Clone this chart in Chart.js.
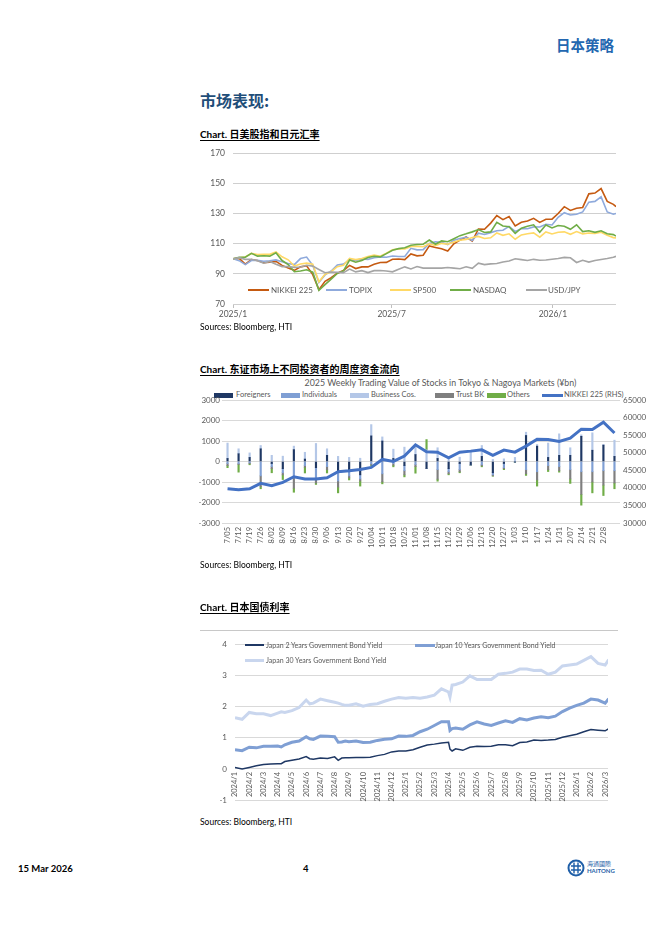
<!DOCTYPE html>
<html>
<head>
<meta charset="utf-8">
<script src="https://cdn.jsdelivr.net/npm/chart.js@4.4.1/dist/chart.umd.min.js"></script>
<style>
  body{margin:0;background:#fff;}
  #page{position:relative;width:662px;height:936px;overflow:hidden;font-family:Lato,"Noto Sans CJK SC",sans-serif;color:#000;}
  .abs{position:absolute;white-space:nowrap;}
  .ctitle{font-family:Lato,"Noto Sans CJK SC",sans-serif;font-weight:bold;font-size:10px;text-decoration:underline;text-underline-offset:2px;}
  .src{font-size:8.5px;}
  .lg{position:absolute;font-size:8px;color:#595959;line-height:10px;white-space:nowrap;}
  .ln{position:absolute;height:2px;}
  .sw{position:absolute;height:5px;}
  canvas{position:absolute;}
</style>
</head>
<body>
<div id="page">
  <div class="abs" style="left:556px;top:34px;font-size:14.5px;font-weight:bold;color:#2367b0;font-family:'Noto Sans CJK SC';">日本策略</div>
  <div class="abs" style="left:200px;top:88px;font-size:16px;font-weight:bold;color:#1f4e79;font-family:'Noto Sans CJK SC';">市场表现:</div>

  <!-- chart 1 -->
  <div class="abs ctitle" style="left:200px;top:126px;">Chart. 日美股指和日元汇率</div>
  <canvas id="c1" width="430" height="185" style="left:195px;top:140px;"></canvas>
  <div class="ln" style="left:248px;top:289px;width:21px;background:#c55a11"></div><div class="lg" style="left:271px;top:285px">NIKKEI 225</div>
  <div class="ln" style="left:326px;top:289px;width:21px;background:#8faadc"></div><div class="lg" style="left:349px;top:285px">TOPIX</div>
  <div class="ln" style="left:390px;top:289px;width:21px;background:#ffd966"></div><div class="lg" style="left:413px;top:285px">SP500</div>
  <div class="ln" style="left:450px;top:289px;width:21px;background:#70ad47"></div><div class="lg" style="left:473px;top:285px">NASDAQ</div>
  <div class="ln" style="left:526px;top:289px;width:21px;background:#a5a5a5"></div><div class="lg" style="left:548px;top:285px">USD/JPY</div>
  <div class="abs src" style="left:200px;top:322px;">Sources: Bloomberg, HTI</div>

  <!-- chart 2 -->
  <div class="abs ctitle" style="left:200px;top:361px;">Chart. 东证市场上不同投资者的周度资金流向</div>
  <div class="abs" style="left:293px;top:377px;width:295px;text-align:center;font-size:8.8px;color:#595959;">2025 Weekly Trading Value of Stocks in Tokyo &amp; Nagoya Markets (¥bn)</div>
  <div class="sw" style="left:214px;top:393px;width:19px;background:#1f3864"></div><div class="lg" style="left:236px;top:390px;font-size:7.5px">Foreigners</div>
  <div class="sw" style="left:281px;top:393px;width:19px;background:#7f9fd4"></div><div class="lg" style="left:302px;top:390px;font-size:7.5px">Individuals</div>
  <div class="sw" style="left:350px;top:393px;width:19px;background:#b4c7e7"></div><div class="lg" style="left:371px;top:390px;font-size:7.5px">Business Cos.</div>
  <div class="sw" style="left:435px;top:393px;width:19px;background:#7f7f7f"></div><div class="lg" style="left:456px;top:390px;font-size:7.5px">Trust BK</div>
  <div class="sw" style="left:487px;top:393px;width:19px;background:#70ad47"></div><div class="lg" style="left:507px;top:390px;font-size:7.5px">Others</div>
  <div class="ln" style="left:542px;top:394px;width:21px;height:3px;background:#4472c4"></div><div class="lg" style="left:564px;top:390px;font-size:7.5px">NIKKEI 225 (RHS)</div>
  <canvas id="c2" width="455" height="175" style="left:195px;top:390px;"></canvas>
  <div class="abs src" style="left:200px;top:560px;">Sources: Bloomberg, HTI</div>

  <!-- chart 3 -->
  <div class="abs ctitle" style="left:200px;top:599px;">Chart. 日本国债利率</div>
  <div class="abs" style="left:200px;top:630px;width:418px;height:0;border-top:1px solid #c8c8c8;"></div>
  <canvas id="c3" width="430" height="182" style="left:195px;top:632px;"></canvas>
  <div class="ln" style="left:245px;top:644px;width:19px;height:1.5px;background:#1f3864"></div><div class="lg" style="left:266px;top:640px;font-size:7px">Japan 2 Years Government Bond Yield</div>
  <div class="ln" style="left:415px;top:644px;width:20px;height:3px;background:#7f9fd4"></div><div class="lg" style="left:435px;top:640px;font-size:7px">Japan 10 Years Government Bond Yield</div>
  <div class="ln" style="left:245px;top:659px;width:19px;height:3px;background:#c9d6ee"></div><div class="lg" style="left:266px;top:655px;font-size:7px">Japan 30 Years Government Bond Yield</div>
  <div class="abs src" style="left:200px;top:817px;">Sources: Bloomberg, HTI</div>

  <!-- footer -->
  <div class="abs" style="left:18px;top:863px;font-size:9.5px;font-weight:bold;">15 Mar 2026</div>
  <div class="abs" style="left:303px;top:863px;font-size:9.5px;font-weight:bold;">4</div>
  <svg class="abs" style="left:567px;top:859px" width="18" height="18" viewBox="0 0 18 18">
    <circle cx="9" cy="9" r="7.5" fill="none" stroke="#1f5fa8" stroke-width="2"/>
    <path d="M4 7h10M4 11h10M7 3.5v11M11 3.5v11" stroke="#1f5fa8" stroke-width="1.4" fill="none"/>
  </svg>
  <div class="abs" style="left:587px;top:860px;font-size:6px;line-height:7px;color:#1f5fa8;">海通國際<br><b>HAITONG</b></div>
</div>

<script>
// ---------- chart 1: indices rebased to 100 at 2025/1 (x = days since 2025-01-01)
const eqDays = [0,7,14,21,28,35,42,49,56,63,70,77,84,91,98,105,112,119,126,133,140,147,154,161,168,175,182,189,196,203,210,217,224,231,238,245,252,259,266,273,280,287,294,301,308,315,322,329,336,343,350,357,364,371,378,385,392,399,406,413,420,427,434,437];
const nikkei = [100,100.2,96.4,99.4,98.8,97.3,97.7,98.2,95.6,93.8,92.3,94.6,95.3,89.5,79.5,85.0,87.4,90.4,92.2,95.6,93.5,94.6,94.6,96.3,97.5,97.6,99.7,99.8,99.4,103.2,101.9,102.3,108.5,107.5,106.6,105.1,109.9,112.3,114.4,111.7,119.7,119.5,123.6,128.6,125.9,128.0,121.7,124.2,125.0,126.8,124.1,126.2,126.2,130.0,134.5,132.0,133.5,134.0,143.0,143.5,146.5,138.0,136.0,134.5];
const topix = [100,98.7,96.1,98.8,98.9,98.3,98.7,99.2,98.0,96.8,96.1,100.1,101.1,95.6,84.3,89.3,91.9,95.8,96.4,99.2,98.9,99.9,99.6,100.6,101.2,101.0,101.8,101.5,101.5,106.9,105.9,106.0,110.1,111.2,110.9,109.4,112.3,113.4,114.2,112.1,116.9,116.1,117.3,118.5,118.9,121.4,118.1,119.9,119.9,121.1,121.0,122.8,122.4,127.5,130.5,129.0,129.5,131.0,137.5,138.0,141.0,131.0,129.5,130.0];
const sp500 = [100,100.6,101.2,103.5,102.7,103.0,102.9,104.5,101.3,99.3,95.2,96.5,97.1,96.4,84.7,89.7,91.4,94.7,95.7,100.2,99.4,100.1,101.5,102.4,101.7,103.6,105.9,106.5,106.5,108.1,108.2,107.9,109.9,108.7,110.2,109.6,111.1,112.2,112.8,114.1,114.8,113.4,113.9,117.1,115.5,116.5,112.9,115.8,116.5,117.1,114.3,117.8,116.4,117.5,117.8,116.2,118.0,116.5,117.0,116.8,117.5,115.5,114.0,113.8];
const nasdaq = [100,100.9,101.0,103.6,101.7,102.0,101.7,103.9,98.8,96.1,91.4,91.9,92.7,91.1,79.1,82.8,86.5,90.3,91.9,99.1,97.7,98.9,100.8,101.6,101.2,103.4,105.6,106.7,107.3,108.9,109.4,109.6,112.4,109.6,111.8,111.3,113.3,115.3,116.5,117.8,119.3,117.4,117.8,124.1,121.7,121.2,116.8,120.2,121.5,122.5,117.5,122.3,120.4,122.0,121.5,119.5,122.5,118.0,118.5,117.5,118.5,116.5,116.0,115.0];
const usdjpy = [100,100.7,99.6,99.6,98.7,97.0,98.2,96.3,94.8,94.8,94.3,94.5,95.7,95.1,92.9,90.7,91.2,91.0,90.8,93.1,91.3,92.1,90.8,92.1,92.2,91.9,91.3,93.0,94.6,93.2,94.8,93.8,93.8,93.8,93.8,94.2,93.8,93.4,94.7,93.6,97.1,96.1,96.6,96.8,97.8,98.5,100.0,99.4,98.8,99.6,99.0,99.2,99.7,100.2,100.9,100.6,97.5,99.0,97.8,98.8,99.5,100.2,101.0,101.6];
const eqTickDays = [0,181,365];
const eqTickLabels = ['2025/1','2025/7','2026/1'];

// ---------- chart 2: weekly net flows (¥bn) and NIKKEI 225 level
const weeks = ['7/05','7/12','7/19','7/26','8/02','8/09','8/16','8/23','8/30','9/06','9/13','9/20','9/27','10/04','10/11','10/18','10/25','11/01','11/08','11/15','11/22','11/29','12/06','12/13','12/20','12/27','1/03','1/10','1/17','1/24','1/31','2/07','2/14','2/21','2/28','3/07'];
const foreigners  = [150,380,200,620,-100,-350,580,120,-300,300,-450,-500,-650,1250,1000,150,-200,340,-340,150,-350,-100,-150,250,-550,-100,-20,1270,750,200,300,300,1230,550,800,250];
const individuals = [-100,-100,-60,-700,-150,-200,-800,-200,-500,-250,-500,-200,-200,-120,-600,-100,-250,-150,0,-400,-150,-300,-30,-150,-100,-200,-10,-400,-500,-200,-250,-400,-500,-500,-450,-450];
const businessCos = [750,240,220,160,300,260,170,330,880,320,250,200,160,550,200,450,700,360,570,520,100,210,450,530,100,130,200,160,80,700,1050,370,70,850,30,790];
const trustBk     = [-100,-50,-50,-530,-100,-100,-500,-80,-250,-150,-300,-100,-100,-50,-390,-80,-200,-100,0,-460,-100,-100,-10,-60,-50,-50,-5,-200,-400,-200,-200,-450,-1100,-500,-700,-600];
const others      = [-100,-370,-50,-100,-200,-230,-200,-280,-70,-160,-280,-100,-250,-30,-100,-80,-100,-320,500,-100,-50,-50,-10,-50,-20,-50,-5,-80,-300,-90,-70,-220,-530,-530,-510,-280];
const nikkeiWeekly = [39740,39460,39740,41270,40600,41550,43150,42500,42500,42870,44570,44850,45250,45820,48090,47520,49030,52240,50250,50160,48550,50160,50450,50820,49230,50730,50160,51870,53860,53770,53200,54140,56700,56600,58700,55600];

// ---------- chart 3: JGB yields (%), x = months since 2024/1
const bondX = [0,0.5,1,1.5,2,2.5,3,3.25,3.5,4,4.5,5,5.25,5.5,6,6.5,7,7.25,7.5,7.75,8,8.5,9,9.5,10,10.5,11,11.5,12,12.5,13,13.5,14,14.5,15,15.1,15.25,15.5,16,16.5,17,17.5,18,18.5,19,19.5,20,20.5,21,21.5,22,22.5,23,23.5,24,24.5,25,25.5,26,26.25];
const jgb2y  = [0.05,0.00,0.05,0.10,0.14,0.16,0.17,0.17,0.24,0.28,0.32,0.40,0.33,0.31,0.35,0.34,0.39,0.28,0.35,0.36,0.36,0.37,0.37,0.38,0.43,0.47,0.55,0.58,0.58,0.62,0.70,0.77,0.80,0.84,0.86,0.64,0.58,0.65,0.60,0.70,0.73,0.72,0.73,0.78,0.78,0.75,0.85,0.87,0.93,0.92,0.93,0.95,1.02,1.07,1.12,1.20,1.27,1.25,1.23,1.30];
const jgb10y = [0.62,0.59,0.70,0.68,0.73,0.73,0.74,0.71,0.78,0.86,0.90,1.04,0.97,0.95,1.06,1.05,1.04,0.86,0.87,0.90,0.88,0.90,0.85,0.86,0.92,0.96,0.97,1.06,1.05,1.08,1.20,1.28,1.40,1.52,1.52,1.24,1.30,1.32,1.28,1.42,1.52,1.45,1.40,1.48,1.55,1.50,1.62,1.58,1.64,1.68,1.65,1.70,1.85,1.96,2.05,2.12,2.25,2.22,2.12,2.26];
const jgb30y = [1.65,1.60,1.82,1.78,1.78,1.72,1.80,1.84,1.82,1.88,1.98,2.22,2.10,2.12,2.25,2.20,2.15,2.12,2.08,2.05,2.05,2.10,2.02,2.08,2.10,2.18,2.25,2.30,2.28,2.30,2.28,2.32,2.38,2.58,2.48,2.32,2.70,2.72,2.80,3.00,2.88,2.88,2.88,3.05,3.08,3.12,3.22,3.22,3.17,3.18,3.05,3.12,3.32,3.35,3.38,3.50,3.62,3.40,3.35,3.52];
const monthLabels = ['2024/1','2024/2','2024/3','2024/4','2024/5','2024/6','2024/7','2024/8','2024/9','2024/10','2024/11','2024/12','2025/1','2025/2','2025/3','2025/4','2025/5','2025/6','2025/7','2025/8','2025/9','2025/10','2025/11','2025/12','2026/1','2026/2','2026/3'];

Chart.defaults.font.family = "Lato, 'Noto Sans', sans-serif";
Chart.defaults.color = '#595959';
Chart.defaults.animation = false;
Chart.defaults.plugins.legend.display = false;
Chart.defaults.plugins.tooltip.enabled = false;

const GRID = '#d9d9d9';
const plain = v => String(v);   // no thousands separators, as in the source
const pts = (xs, ys) => xs.map((x, i) => ({x, y: ys[i]}));

function lineSet(label, xs, ys, color, width, order){
  return { label, data: pts(xs, ys), borderColor: color, borderWidth: width,
           pointRadius: 0, tension: 0, fill: false, order };
}

new Chart(document.getElementById('c1'), {
  type: 'line',
  data: { datasets: [
    lineSet('NIKKEI 225', eqDays, nikkei, '#c55a11', 1.6, 5),
    lineSet('TOPIX', eqDays, topix, '#8faadc', 1.6, 4),
    lineSet('SP500', eqDays, sp500, '#ffd966', 1.6, 3),
    lineSet('NASDAQ', eqDays, nasdaq, '#70ad47', 1.6, 2),
    lineSet('USD/JPY', eqDays, usdjpy, '#a5a5a5', 1.6, 1)
  ]},
  options: {
    responsive: false,
    layout: { padding: { top: 9, right: 9, left: 0, bottom: 0 } },
    scales: {
      x: {
        type: 'linear', min: 0, max: 437,
        afterBuildTicks: s => { s.ticks = eqTickDays.map(v => ({ value: v })); },
        ticks: { callback: (v, i) => eqTickLabels[i], font: { size: 8.5 }, maxRotation: 0, padding: 1 },
        grid: { drawOnChartArea: false, color: '#bfbfbf', tickLength: 4 },
        border: { display: false },
        afterFit: s => { s.height = 21; }
      },
      y: {
        min: 70, max: 170,
        ticks: { stepSize: 20, font: { size: 8.5 }, padding: 8, callback: plain },
        grid: { color: '#cfcfcf', drawTicks: false },
        border: { display: false },
        afterFit: s => { s.width = 38; }
      }
    }
  }
});

const flowSeries = [
  ['Foreigners', foreigners, '#1f3864'],
  ['Individuals', individuals, '#7f9fd4'],
  ['Business Cos.', businessCos, '#b4c7e7'],
  ['Trust BK', trustBk, '#7f7f7f'],
  ['Others', others, '#70ad47']
];

new Chart(document.getElementById('c2'), {
  data: {
    labels: weeks,
    datasets: [
      { type: 'line', label: 'NIKKEI 225 (RHS)', data: nikkeiWeekly, yAxisID: 'y1',
        borderColor: '#4472c4', borderWidth: 3, pointRadius: 0, tension: 0, order: 0 },
      ...flowSeries.map(([label, data, color]) => ({
        type: 'bar', label, data, backgroundColor: color, yAxisID: 'y',
        stack: 'flows', barThickness: 1.5, order: 1
      }))
    ]
  },
  options: {
    responsive: false,
    layout: { padding: { top: 10, right: 0, left: 0, bottom: 0 } },
    scales: {
      x: {
        stacked: true,
        ticks: { autoSkip: false, minRotation: 90, maxRotation: 90, font: { size: 7.5 }, padding: 4,
                 // the final week carries no label in the source chart
                 callback: (v, i) => i < weeks.length - 1 ? weeks[i] : '' },
        grid: { display: false, drawTicks: false },
        border: { display: false },
        afterFit: s => { s.height = 42; }
      },
      y: {
        stacked: true, min: -3000, max: 3000,
        ticks: { stepSize: 1000, font: { size: 8 }, padding: 2, callback: plain },
        grid: { color: GRID, drawTicks: false },
        border: { display: false },
        afterFit: s => { s.width = 27; }
      },
      y1: {
        position: 'right', min: 30000, max: 65000,
        ticks: { stepSize: 5000, font: { size: 8 }, padding: 3, callback: plain },
        grid: { drawOnChartArea: false, drawTicks: false },
        border: { display: false },
        afterFit: s => { s.width = 30; }
      }
    }
  }
});

new Chart(document.getElementById('c3'), {
  type: 'line',
  data: { datasets: [
    lineSet('Japan 2 Years Government Bond Yield', bondX, jgb2y, '#1f3864', 1.5, 1),
    lineSet('Japan 10 Years Government Bond Yield', bondX, jgb10y, '#7f9fd4', 3, 2),
    lineSet('Japan 30 Years Government Bond Yield', bondX, jgb30y, '#c9d6ee', 3, 3)
  ]},
  options: {
    responsive: false,
    layout: { padding: { top: 6, right: 17, left: 0, bottom: 14 } },
    scales: {
      x: {
        type: 'linear', min: 0, max: 26.2, position: { y: 0 },
        afterBuildTicks: s => { s.ticks = monthLabels.map((_, i) => ({ value: i })); },
        ticks: { callback: (v, i) => monthLabels[i], minRotation: 90, maxRotation: 90, font: { size: 7.5 }, padding: 3 },
        grid: { display: false, drawTicks: false },
        border: { display: false },
        afterFit: s => { s.height = 0; }
      },
      y: {
        min: -1, max: 4,
        ticks: { stepSize: 1, font: { size: 8 }, padding: 8, callback: plain },
        grid: { color: GRID, drawTicks: false },
        border: { display: false },
        afterFit: s => { s.width = 40; }
      }
    }
  }
});
</script>
</body>
</html>
